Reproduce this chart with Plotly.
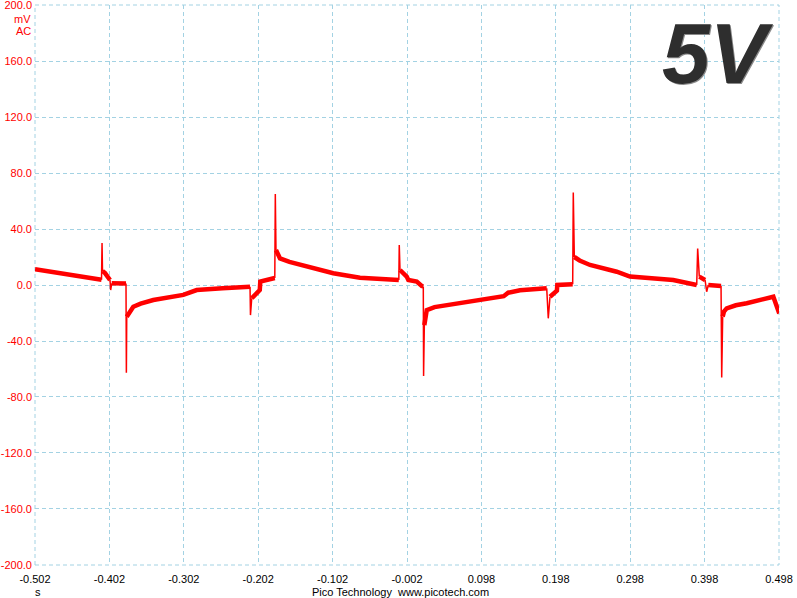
import plotly.graph_objects as go

# ---- data (time in s, voltage in mV) ----
# slowly varying body of the trace; None separates segments
body_t = [
    -0.502, -0.485, -0.465, -0.44, -0.4126, None,
    -0.4113, -0.4079, -0.4012, None,
    -0.3989, -0.3797, None,
    -0.3787, -0.3740, -0.3699, -0.360, -0.343, -0.3027, -0.2847, -0.250, -0.2130, None,
    -0.2107, -0.2019, -0.1999, -0.1992, -0.1817, -0.1797, None,
    -0.1781, -0.1750, -0.1727, -0.160, -0.1368, -0.1011, -0.0652, -0.040, -0.0130, None,
    -0.0114, -0.0024, -0.0002, 0.0111, 0.0178, 0.0199, None,
    0.0213, 0.0225, 0.0245, 0.035, 0.06, 0.0962, 0.128, 0.134, 0.1499, 0.1858, None,
    0.1902, 0.1983, 0.1995, 0.2000, 0.2207, None,
    0.2229, 0.2300, 0.2440, 0.2799, 0.2977, 0.3200, 0.3559, 0.3874, None,
    0.3909, 0.3986, None,
    0.4030, 0.4201, None,
    0.4223, 0.4240, 0.4277, 0.440, 0.4546, 0.4720, 0.4904, 0.4984,
]
body_mv = [
    11.2, 9.8, 8.0, 6.0, 3.8, None,
    10.0, 8.5, 3.6, None,
    1.2, 1.0, None,
    -22.6, -18.5, -15.5, -13.3, -10.7, -7.1, -3.6, -2.4, -1.2, None,
    -9.5, -4.8, -3.6, 2.4, 4.8, 5.0, None,
    25.0, 21.0, 19.0, 16.5, 13.0, 8.4, 5.2, 4.3, 3.5, None,
    10.7, 6.0, 3.6, 2.4, -0.7, -1.0, None,
    -28.6, -22.0, -17.9, -15.8, -13.5, -10.7, -8.0, -5.5, -3.8, -2.4, None,
    -8.4, -4.8, -4.0, 0.0, 0.5, None,
    20.0, 17.5, 14.3, 9.5, 6.0, 4.8, 3.6, 0.0, None,
    6.0, 3.6, None,
    0.0, -0.7, None,
    -22.6, -19.0, -16.7, -14.5, -13.0, -10.5, -8.4, -20.3,
]

# fast edges / spikes: before, extreme, after
spike_t = [
    -0.4126, -0.4119, -0.4113, None,
    -0.4012, -0.4003, -0.3989, None,
    -0.3797, -0.3792, -0.3787, None,
    -0.2130, -0.2124, -0.2107, None,
    -0.1797, -0.1790, -0.1781, None,
    -0.0130, -0.0124, -0.0114, None,
    0.0199, 0.0203, 0.0213, None,
    0.1858, 0.1879, 0.1902, None,
    0.2207, 0.2215, 0.2229, None,
    0.3874, 0.3887, 0.3909, None,
    0.3986, 0.4008, 0.4030, None,
    0.4201, 0.4210, 0.4223,
]
spike_mv = [
    3.8, 30.0, 10.0, None,
    3.6, -3.6, 1.2, None,
    1.0, -62.7, -22.6, None,
    -1.2, -21.5, -9.5, None,
    5.0, 65.0, 25.0, None,
    3.5, 28.6, 10.7, None,
    -1.0, -65.0, -28.6, None,
    -2.4, -23.8, -8.4, None,
    0.5, 66.0, 20.0, None,
    0.0, 26.0, 6.0, None,
    3.6, -4.8, 0.0, None,
    -0.7, -66.0, -22.6,
]

x_ticks = [-0.502, -0.402, -0.302, -0.202, -0.102, -0.002, 0.098, 0.198, 0.298, 0.398, 0.498]
x_labels = ["-0.502", "-0.402", "-0.302", "-0.202", "-0.102", "-0.002", "0.098", "0.198", "0.298", "0.398", "0.498"]
y_ticks = [200, 160, 120, 80, 40, 0, -40, -80, -120, -160, -200]
y_labels = ["200.0", "160.0", "120.0", "80.0", "40.0", "0.0", "-40.0", "-80.0", "-120.0", "-160.0", "-200.0"]

RED = "#ff0000"
GRID = "#a3d2e3"
FONT = "Liberation Sans, Arial, sans-serif"

fig = go.Figure()
fig.add_trace(go.Scatter(x=body_t, y=body_mv, mode="lines",
                         line=dict(color=RED, width=4.5), connectgaps=False,
                         hoverinfo="skip", showlegend=False))
fig.add_trace(go.Scatter(x=spike_t, y=spike_mv, mode="lines",
                         line=dict(color=RED, width=1.5), connectgaps=False,
                         hoverinfo="skip", showlegend=False))

fig.update_layout(
    width=797, height=598, autosize=False,
    margin=dict(l=35, r=18, t=5, b=33, autoexpand=False),
    paper_bgcolor="white", plot_bgcolor="white",
    font=dict(family=FONT, size=11, color="black"),
    xaxis=dict(range=[-0.50201, 0.49801], tickmode="array", tickvals=x_ticks, ticktext=x_labels,
               showgrid=True, gridcolor=GRID, griddash="4px,3px", gridwidth=1,
               zeroline=False, showline=False, ticks="", automargin=False,
               ticklabelstandoff=6, ticklabeloverflow="allow",
               tickfont=dict(family=FONT, size=11, color="black")),
    yaxis=dict(range=[-200.01, 200.01], tickmode="array", tickvals=y_ticks, ticktext=y_labels,
               showgrid=True, gridcolor=GRID, griddash="4px,3px", gridwidth=1,
               zeroline=False, showline=False, ticks="", ticklabelstandoff=2, automargin=False,
               ticklabeloverflow="allow",
               tickfont=dict(family=FONT, size=11, color=RED)),
    shapes=[
        dict(type="rect", xref="paper", yref="paper", x0=0, x1=1, y0=0, y1=1,
             line=dict(color=GRID, width=1, dash="4px,3px"), layer="below"),
    ],
    annotations=[
        dict(text="mV", xref="paper", yref="paper", x=0, y=1, xanchor="right", yanchor="middle",
             xshift=-2, yshift=-14, showarrow=False, font=dict(family=FONT, size=11, color=RED)),
        dict(text="AC", xref="paper", yref="paper", x=0, y=1, xanchor="right", yanchor="middle",
             xshift=-2, yshift=-26, showarrow=False, font=dict(family=FONT, size=11, color=RED)),
        dict(text="s", xref="paper", yref="paper", x=0, y=0, xanchor="center", yanchor="middle",
             xshift=3, yshift=-27, showarrow=False, font=dict(family=FONT, size=11, color="black")),
        dict(text="Pico Technology  www.picotech.com", xref="paper", yref="paper", x=0.4906, y=0,
             xanchor="center", yanchor="middle", yshift=-27, showarrow=False,
             font=dict(family=FONT, size=11, color="black")),
        dict(text="<b><i>5V</i></b>", xref="paper", yref="paper", x=0.918, y=0.914,
             xanchor="center", yanchor="middle", showarrow=False,
             font=dict(family=FONT, size=86, color="#8a8a8a"), xshift=1, yshift=-1),
        dict(text="<b><i>5V</i></b>", xref="paper", yref="paper", x=0.918, y=0.914,
             xanchor="center", yanchor="middle", showarrow=False,
             font=dict(family=FONT, size=86, color="#2e2e2e")),
    ],
)

fig.write_html("out.html", config={"displayModeBar": False},
               post_script="document.body.style.margin='0';document.body.style.overflow='hidden';")
